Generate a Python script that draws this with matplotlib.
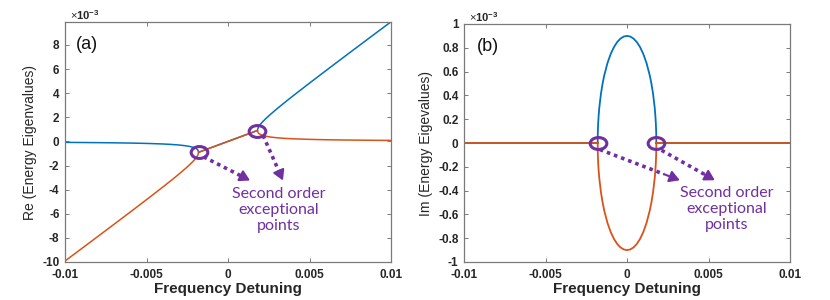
import matplotlib
matplotlib.use("Agg")
import matplotlib.pyplot as plt
from matplotlib import font_manager
from matplotlib.path import Path
from matplotlib.transforms import Affine2D

# ---------------- data ----------------
det_left = [-0.0100, -0.0090, -0.0080, -0.0070, -0.0060, -0.0050, -0.0040, -0.0035,
            -0.0030, -0.0026, -0.0023, -0.0021, -0.0020, -0.0019, -0.00185, -0.0018]
re_blue_left = [-0.000082, -0.000091, -0.000103, -0.000118, -0.000138, -0.000168,
                -0.000214, -0.000249, -0.000300, -0.000362, -0.000434, -0.000509,
                -0.000564, -0.000646, -0.000711, -0.000900]
re_orange_left = [-0.009918, -0.008909, -0.007897, -0.006882, -0.005862, -0.004832,
                  -0.003786, -0.003251, -0.002700, -0.002238, -0.001866, -0.001591,
                  -0.001436, -0.001254, -0.001139, -0.000900]

det_mid = [-0.0018, 0.0018]
re_mid = [-0.0009, 0.0009]

det_right = [0.0018, 0.00185, 0.0019, 0.0020, 0.0021, 0.0023, 0.0026, 0.0030,
             0.0035, 0.0040, 0.0050, 0.0060, 0.0070, 0.0080, 0.0090, 0.0100]
re_blue_right = [0.000900, 0.001139, 0.001254, 0.001436, 0.001591, 0.001866,
                 0.002238, 0.002700, 0.003251, 0.003786, 0.004832, 0.005862,
                 0.006882, 0.007897, 0.008909, 0.009918]
re_orange_right = [0.000900, 0.000711, 0.000646, 0.000564, 0.000509, 0.000434,
                   0.000362, 0.000300, 0.000249, 0.000214, 0.000168, 0.000138,
                   0.000118, 0.000103, 0.000091, 0.000082]

det_loop = [-0.0018, -0.00179, -0.00177, -0.00174, -0.0017, -0.0016, -0.0015, -0.0014,
            -0.0012, -0.0010, -0.0008, -0.0006, -0.0004, -0.0002, 0.0,
            0.0002, 0.0004, 0.0006, 0.0008, 0.0010, 0.0012, 0.0014, 0.0015,
            0.0016, 0.0017, 0.00174, 0.00177, 0.00179, 0.0018]
im_blue_loop = [0.0, 0.0000947, 0.0001636, 0.0002304, 0.0002958, 0.0004123, 0.0004975,
                0.0005657, 0.0006708, 0.0007483, 0.0008062, 0.0008485, 0.0008775,
                0.0008944, 0.0009, 0.0008944, 0.0008775, 0.0008485, 0.0008062,
                0.0007483, 0.0006708, 0.0005657, 0.0004975, 0.0004123, 0.0002958,
                0.0002304, 0.0001636, 0.0000947, 0.0]
im_orange_loop = [0.0, -0.0000947, -0.0001636, -0.0002304, -0.0002958, -0.0004123,
                  -0.0004975, -0.0005657, -0.0006708, -0.0007483, -0.0008062,
                  -0.0008485, -0.0008775, -0.0008944, -0.0009, -0.0008944,
                  -0.0008775, -0.0008485, -0.0008062, -0.0007483, -0.0006708,
                  -0.0005657, -0.0004975, -0.0004123, -0.0002958, -0.0002304,
                  -0.0001636, -0.0000947, 0.0]
det_out_left = [-0.0100, -0.0018]
det_out_right = [0.0018, 0.0100]
im_out = [0.0, 0.0]

ep_det = [-0.0018, 0.0018]
ep_re = [-0.0009, 0.0009]
ep_im = [0.0, 0.0]

x_ticks = [-0.01, -0.005, 0.0, 0.005, 0.01]
x_tick_labels = ["-0.01", "-0.005", "0", "0.005", "0.01"]
re_ticks = [-0.010, -0.008, -0.006, -0.004, -0.002, 0.0, 0.002, 0.004, 0.006, 0.008]
re_tick_labels = ["-10", "-8", "-6", "-4", "-2", "0", "2", "4", "6", "8"]
im_ticks = [-0.001, -0.0008, -0.0006, -0.0004, -0.0002, 0.0, 0.0002, 0.0004,
            0.0006, 0.0008, 0.001]
im_tick_labels = ["-1", "-0.8", "-0.6", "-0.4", "-0.2", "0", "0.2", "0.4", "0.6",
                  "0.8", "1"]

# ---------------- styles ----------------
BLUE = "#0072BD"
ORANGE = "#D95319"
PURPLE = "#7030A0"
SPINE = "#7a7a7a"
names = {f.name for f in font_manager.fontManager.ttflist}
TICKFONT = "Liberation Sans" if "Liberation Sans" in names else "DejaVu Sans"
NARROW = "Liberation Sans Narrow" if "Liberation Sans Narrow" in names else TICKFONT
NOTEFONT = "Lato" if "Lato" in names else "DejaVu Sans"

plt.rcParams["mathtext.fontset"] = "custom"
plt.rcParams["mathtext.rm"] = TICKFONT
plt.rcParams["mathtext.bf"] = TICKFONT + ":bold"

fig = plt.figure(figsize=(8.3, 3.0), dpi=100)
axA = fig.add_axes([65 / 830, 38 / 300, 326 / 830, 240 / 300])
axB = fig.add_axes([464 / 830, 38 / 300, 326 / 830, 238 / 300])

ell = Path.unit_circle().transformed(Affine2D().scale(1.4, 1.0))


def style(ax, yticks, ylabels, ylim, ylabel):
    ax.set_xlim(-0.01, 0.01)
    ax.set_ylim(*ylim)
    ax.set_xticks(x_ticks)
    ax.set_xticklabels(x_tick_labels)
    ax.set_yticks(yticks)
    ax.set_yticklabels(ylabels)
    ax.tick_params(direction="in", length=3, width=0.7, color=SPINE,
                   top=True, right=True, pad=4)
    ax.tick_params(axis="x", pad=5)
    for lab in ax.get_xticklabels() + ax.get_yticklabels():
        lab.set_fontfamily(TICKFONT)
        lab.set_fontweight("bold")
        lab.set_fontsize(8.5)
        lab.set_color("#262626")
    for s in ax.spines.values():
        s.set_color(SPINE)
        s.set_linewidth(0.9)
    ax.set_xlabel("Frequency Detuning", fontfamily=TICKFONT, fontweight="bold",
                  fontsize=11, color="#262626", labelpad=1)
    ax.set_ylabel(ylabel, fontfamily=NARROW, fontsize=10, color="#262626",
                  labelpad=4)
    ax.text(0.015, 1.0, r"$\times\mathbf{10^{-3}}$", transform=ax.transAxes,
            ha="left", va="bottom", fontsize=8, color="#262626")


def annotate_eps(ax, xs, ys, arrows, text_xy):
    ax.plot(xs, ys, linestyle="none", marker=ell, markersize=12,
            markerfacecolor="none", markeredgecolor=PURPLE, markeredgewidth=2.2,
            zorder=5)
    for (x0, y0), (x1, y1) in arrows:
        fx = x0 + 0.80 * (x1 - x0)
        fy = y0 + 0.80 * (y1 - y0)
        ax.plot([x0, fx], [y0, fy], color=PURPLE, lw=2.6,
                linestyle=(0, (1, 1.1)), solid_capstyle="butt",
                dash_capstyle="butt", zorder=4)
        ax.annotate("", xy=(x1, y1), xytext=(fx, fy),
                    arrowprops=dict(arrowstyle="-|>,head_length=0.6,head_width=0.35",
                                    color=PURPLE, lw=1.5, shrinkA=0, shrinkB=0,
                                    mutation_scale=10),
                    zorder=4)
    ax.text(text_xy[0], text_xy[1], "Second order\nexceptional\npoints",
            ha="center", va="center", fontfamily=NOTEFONT, fontsize=11.5,
            color=PURPLE, linespacing=1.2, zorder=6)


# ---------------- (a) real parts ----------------
axA.plot(det_left, re_blue_left, color=BLUE, lw=1.1)
axA.plot(det_mid, re_mid, color=BLUE, lw=1.1)
axA.plot(det_right, re_blue_right, color=BLUE, lw=1.1)
axA.plot(det_left, re_orange_left, color=ORANGE, lw=1.1)
axA.plot(det_mid, re_mid, color=ORANGE, lw=1.1)
axA.plot(det_right, re_orange_right, color=ORANGE, lw=1.1)
style(axA, re_ticks, re_tick_labels, (-0.010, 0.0099), "Re (Energy Eigenvalues)")
axA.text(0.034, 0.905, "(a)", transform=axA.transAxes, ha="left", va="center",
         fontfamily=TICKFONT, fontsize=13, color="#111111")
annotate_eps(axA, ep_det, ep_re,
             [((-0.00150, -0.00128), (0.00135, -0.00324)),
              ((0.00215, 0.00050), (0.00337, -0.00324))],
             (0.00313, -0.00567))

# ---------------- (b) imaginary parts ----------------
axB.plot(det_out_left, im_out, color=BLUE, lw=1.3)
axB.plot(det_out_right, im_out, color=BLUE, lw=1.3)
axB.plot(det_loop, im_blue_loop, color=BLUE, lw=1.3)
axB.plot(det_out_left, im_out, color=ORANGE, lw=1.3)
axB.plot(det_out_right, im_out, color=ORANGE, lw=1.3)
axB.plot(det_loop, im_orange_loop, color=ORANGE, lw=1.3)
style(axB, im_ticks, im_tick_labels, (-0.001, 0.001), "Im (Energy Eigevalues)")
axB.text(0.04, 0.905, "(b)", transform=axB.transAxes, ha="left", va="center",
         fontfamily=TICKFONT, fontsize=13, color="#111111")
annotate_eps(axB, ep_det, ep_im,
             [((-0.00167, -0.000055), (0.00324, -0.000313)),
              ((0.00212, -0.000061), (0.00539, -0.000313))],
             (0.00614, -0.000557))

fig.savefig("out.png", dpi=100)
